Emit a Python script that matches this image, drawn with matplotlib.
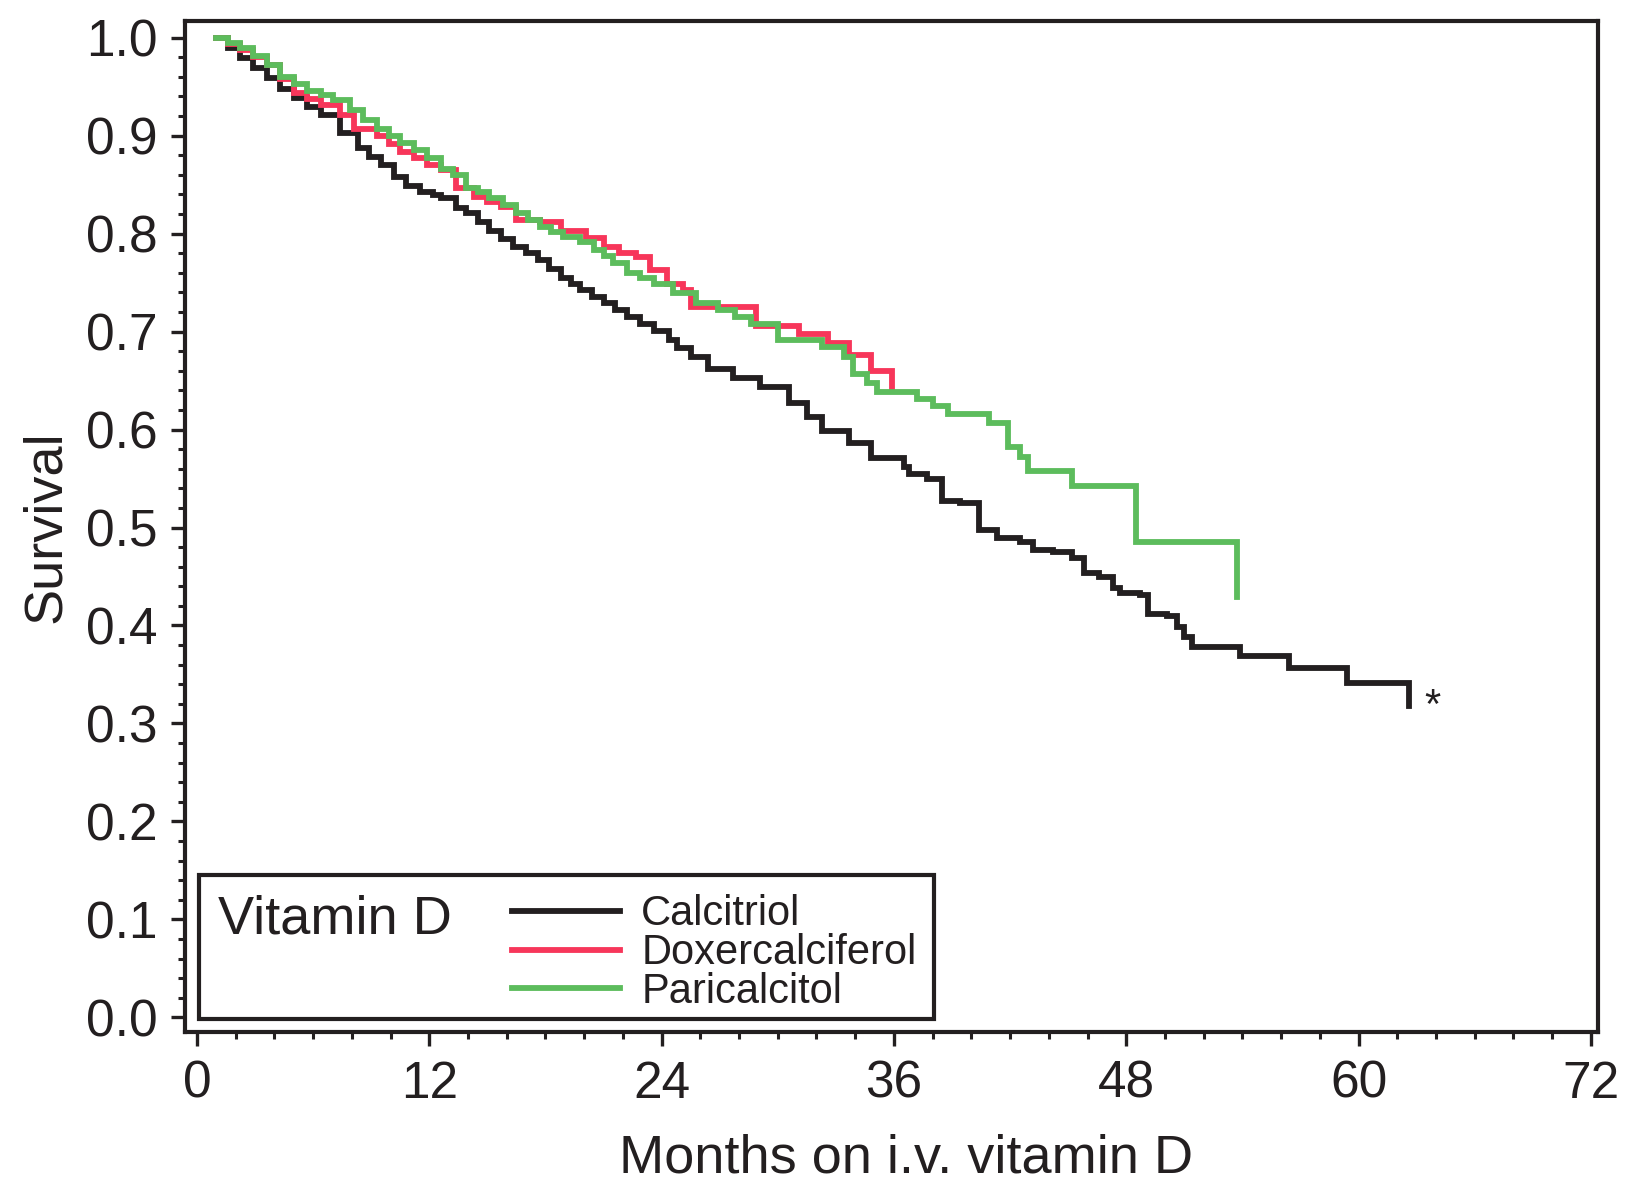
import matplotlib
matplotlib.use('Agg')
import matplotlib.pyplot as plt
from matplotlib.patches import Rectangle
from matplotlib.ticker import MultipleLocator, FormatStrFormatter

plt.rcParams['font.family'] = ['Liberation Sans', 'DejaVu Sans']

# Kaplan-Meier curves (month of step, survival after step)
calcitriol_months = [1.0, 1.6, 2.2, 2.9, 3.6, 4.3, 5.0, 5.7, 6.4, 7.4, 8.3, 8.9, 9.5,
                     10.2, 10.8, 11.5, 12.2, 12.6, 13.4, 13.9, 14.5, 15.1, 15.7, 16.3,
                     17.0, 17.6, 18.2, 18.8, 19.3, 19.8, 20.4, 21.0, 21.6, 22.2, 22.9,
                     23.6, 24.4, 24.8, 25.5, 26.4, 27.7, 29.1, 30.6, 31.5, 32.3, 33.7,
                     34.8, 36.5, 36.8, 37.7, 38.5, 39.4, 40.4, 41.3, 42.5, 43.2, 44.2,
                     45.2, 45.8, 46.6, 47.3, 47.7, 48.7, 49.1, 50.1, 50.6, 51.0, 51.4,
                     53.9, 56.4, 59.4, 62.6]
calcitriol_surv = [1.000, 0.989, 0.979, 0.969, 0.959, 0.948, 0.938, 0.929, 0.921, 0.903,
                   0.887, 0.878, 0.870, 0.858, 0.849, 0.843, 0.839, 0.836, 0.826, 0.821,
                   0.812, 0.803, 0.795, 0.786, 0.780, 0.773, 0.764, 0.755, 0.749, 0.742,
                   0.735, 0.729, 0.722, 0.715, 0.708, 0.701, 0.691, 0.683, 0.674, 0.662,
                   0.653, 0.643, 0.627, 0.613, 0.599, 0.586, 0.571, 0.562, 0.555, 0.550,
                   0.527, 0.525, 0.497, 0.489, 0.485, 0.477, 0.475, 0.469, 0.454, 0.449,
                   0.438, 0.433, 0.431, 0.412, 0.410, 0.398, 0.388, 0.378, 0.369, 0.357,
                   0.341, 0.318]

doxer_months = [1.0, 1.6, 2.2, 2.9, 3.6, 4.3, 5.0, 5.7, 6.4, 7.4, 8.1, 9.3, 9.9, 10.5,
                11.2, 11.9, 12.6, 13.4, 14.3, 15.0, 15.7, 16.5, 17.7, 18.8, 20.1, 21.0,
                21.8, 22.7, 23.4, 24.3, 25.1, 25.5, 28.9, 31.1, 32.6, 33.7, 34.8, 35.9]
doxer_surv = [1.000, 0.994, 0.987, 0.980, 0.972, 0.958, 0.944, 0.937, 0.931, 0.921,
              0.907, 0.900, 0.891, 0.883, 0.877, 0.870, 0.865, 0.847, 0.837, 0.832,
              0.827, 0.814, 0.812, 0.803, 0.796, 0.786, 0.780, 0.776, 0.763, 0.749,
              0.742, 0.725, 0.706, 0.698, 0.688, 0.676, 0.660, 0.640]

pari_months = [1.0, 1.6, 2.2, 2.9, 3.6, 4.3, 5.0, 5.7, 6.4, 7.0, 7.9, 8.6, 9.3, 9.9,
               10.5, 11.2, 11.9, 12.6, 13.2, 13.9, 14.5, 15.1, 15.8, 16.5, 17.1, 17.7,
               18.3, 18.9, 19.8, 20.5, 21.0, 21.5, 22.2, 22.9, 23.6, 24.6, 25.8, 26.9,
               27.8, 28.6, 30.0, 32.3, 33.4, 33.9, 34.6, 35.1, 37.2, 38.0, 38.8, 40.9,
               41.9, 42.5, 42.9, 45.2, 48.5, 53.7]
pari_surv = [1.000, 0.995, 0.989, 0.981, 0.972, 0.960, 0.953, 0.946, 0.941, 0.936,
             0.926, 0.916, 0.907, 0.900, 0.893, 0.885, 0.877, 0.866, 0.860, 0.847,
             0.842, 0.836, 0.829, 0.821, 0.814, 0.807, 0.802, 0.797, 0.791, 0.783,
             0.777, 0.770, 0.760, 0.755, 0.749, 0.739, 0.729, 0.722, 0.715, 0.708,
             0.691, 0.684, 0.674, 0.657, 0.648, 0.638, 0.631, 0.624, 0.616, 0.607,
             0.582, 0.572, 0.558, 0.542, 0.485, 0.429]

labels = ['Calcitriol', 'Doxercalciferol', 'Paricalcitol']
colors = ['#231f20', '#f7365a', '#5cbc5c']

fig = plt.figure(figsize=(16.27, 11.89), dpi=100)
ax = fig.add_axes([0.1137, 0.132, 0.8685, 0.8503])

lines = []
for m, s, c, lab in zip([calcitriol_months, doxer_months, pari_months],
                        [calcitriol_surv, doxer_surv, pari_surv], colors, labels):
    ln, = ax.plot(m, s, drawstyle='steps-post', color=c, lw=4.2, label=lab,
                  solid_joinstyle='miter')
    lines.append(ln)

ax.text(63.8, 0.317, '*', fontsize=30, ha='center', va='center', color='#231f20')

ax.set_xlim(-0.62, 72.37)
ax.set_ylim(-0.015, 1.017)
ax.xaxis.set_major_locator(MultipleLocator(12))
ax.xaxis.set_minor_locator(MultipleLocator(2))
ax.yaxis.set_major_locator(MultipleLocator(0.1))
ax.yaxis.set_minor_locator(MultipleLocator(0.02))
ax.yaxis.set_major_formatter(FormatStrFormatter('%.1f'))

ax.tick_params(which='major', direction='out', length=10, width=2.4,
               labelsize=37, color='#231f20', labelcolor='#231f20', pad=10)
ax.tick_params(which='minor', direction='out', length=5, width=2.2, color='#231f20')
for sp in ax.spines.values():
    sp.set_linewidth(3)
    sp.set_color('#231f20')

ax.set_xlabel('Months on i.v. vitamin D', fontsize=39, color='#231f20')
ax.set_ylabel('Survival', fontsize=39, color='#231f20')
ax.xaxis.set_label_coords(0.51, -0.10)
ax.yaxis.set_label_coords(-0.081, 0.50)

# legend box
box = Rectangle((0.0099, 0.0129), 0.520, 0.1424, transform=ax.transAxes,
                facecolor='white', edgecolor='#231f20', lw=3, zorder=5)
ax.add_patch(box)
ax.text(0.0234, 0.097, 'Vitamin D', transform=ax.transAxes, fontsize=39,
        va='baseline', ha='left', color='#231f20', zorder=6)
leg = ax.legend(handles=lines, labels=labels, loc='upper left',
                bbox_to_anchor=(0.2314, 0.1362), bbox_transform=ax.transAxes,
                frameon=False, fontsize=30, handlelength=2.6, handletextpad=0.5,
                labelspacing=-0.03, borderpad=0, borderaxespad=0)
leg.set_zorder(7)
for t in leg.get_texts():
    t.set_color('#231f20')

fig.savefig('out.png', dpi=100)
